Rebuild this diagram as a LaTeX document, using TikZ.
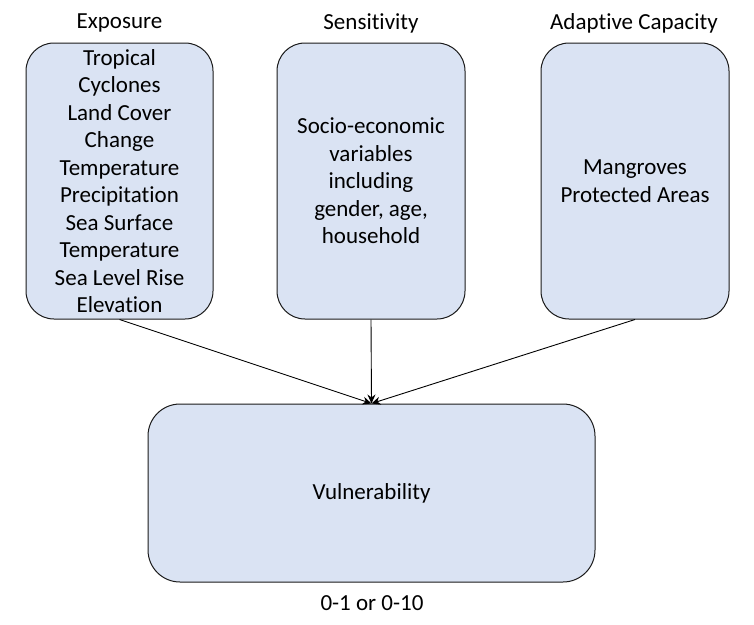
\documentclass[tikz,border=0pt]{standalone}
\usepackage{fontspec}
\setmainfont{Carlito}[Ligatures=NoCommon]
\usetikzlibrary{arrows.meta}
\definecolor{boxfill}{HTML}{DAE3F3}
\definecolor{boxline}{HTML}{1A1A1A}
\tikzset{
  card/.style={draw=boxline, fill=boxfill, line width=1pt, rounded corners=28pt, align=center, inner sep=0pt},
  lbl/.style={font=\fontsize{23}{27.5}\selectfont, align=center, text=black},
  conn/.style={-{Stealth[length=9pt,width=8pt]}, line width=0.9pt, draw=black}
}
\begin{document}
\begin{tikzpicture}[x=1pt,y=-1pt]
\useasboundingbox (0,0) rectangle (754,624);
\node[card, minimum width=187pt, minimum height=276pt] (exp) at (119.5,181) {};
\node[card, minimum width=188pt, minimum height=276pt] (sen) at (371,181) {};
\node[card, minimum width=188pt, minimum height=276pt] (ada) at (635,181) {};
\node[card, minimum width=447pt, minimum height=178pt, rounded corners=32pt] (vul) at (371.5,493) {};
\node[lbl] (expt) at (exp.center) {Tropical\\Cyclones\\Land Cover\\Change\\Temperature\\Precipitation\\Sea Surface\\Temperature\\Sea Level Rise\\Elevation};
\node[lbl] (sent) at (sen.center) {Socio-economic\\variables\\including\\gender, age,\\household};
\node[lbl] (adat) at (ada.center) {Mangroves\\Protected Areas};
\node[lbl] (vult) at (vul.center) {Vulnerability};
\node[lbl] (h1) at (119.5,23) {Exposure};
\node[lbl] (h2) at (371,23) {Sensitivity};
\node[lbl] (h3) at (634,23) {Adaptive Capacity};
\node[lbl] (rng) at (372,603) {0-1 or 0-10};
\draw[conn] (exp.south) -- (vul.north);
\draw[conn] (sen.south) -- (vul.north);
\draw[conn] (ada.south) -- (vul.north);
\end{tikzpicture}
\end{document}
